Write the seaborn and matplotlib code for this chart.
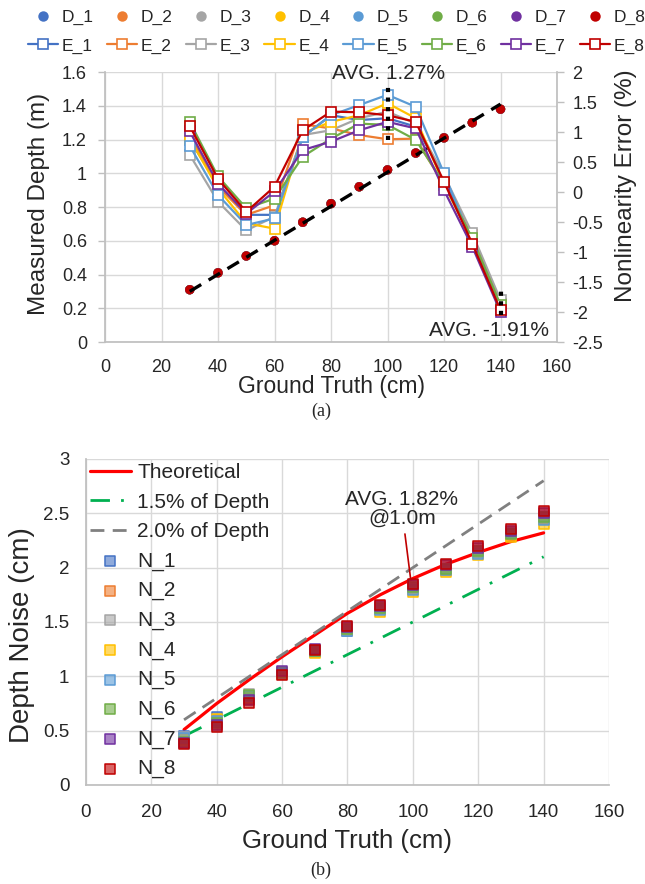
import matplotlib
matplotlib.use("Agg")
import matplotlib.pyplot as plt
import pandas as pd
import seaborn as sns
from matplotlib.lines import Line2D
from matplotlib.colors import to_rgba
from matplotlib.ticker import FuncFormatter

# ---- data ----
ground_truth = [30, 40, 50, 60, 70, 80, 90, 100, 110, 120, 130, 140]

# measured depth (m) - the 8 D series overlap in the picture
measured_depth = [0.31, 0.41, 0.51, 0.60, 0.71, 0.82, 0.92, 1.02, 1.12, 1.21, 1.30, 1.38]

# nonlinearity error (%)
E_1 = [0.87, 0.12, -0.38, -0.38, 0.92, 1.28, 1.20, 1.23, 1.09, 0.26, -0.83, -1.93]
E_2 = [0.95, 0.09, -0.38, -0.22, 1.13, 1.06, 0.95, 0.88, 0.89, 0.12, -0.72, -1.87]
E_3 = [0.62, -0.16, -0.64, -0.41, 0.95, 1.03, 1.23, 1.34, 1.14, 0.28, -0.69, -1.80]
E_4 = [0.89, 0.06, -0.52, -0.61, 0.98, 1.17, 1.28, 1.48, 1.23, 0.12, -0.80, -1.90]
E_5 = [0.77, -0.05, -0.55, -0.44, 0.92, 1.28, 1.45, 1.62, 1.42, 0.31, -0.84, -1.93]
E_6 = [1.17, 0.26, -0.27, -0.11, 0.59, 0.89, 1.14, 1.12, 0.87, 0.14, -0.77, -1.88]
E_7 = [1.01, 0.14, -0.36, 0.01, 0.70, 0.84, 1.03, 1.17, 1.06, 0.03, -0.91, -2.00]
E_8 = [1.10, 0.22, -0.33, 0.09, 1.03, 1.34, 1.33, 1.28, 1.17, 0.17, -0.86, -1.97]
errors = [E_1, E_2, E_3, E_4, E_5, E_6, E_7, E_8]

trend_x = [30, 140]
trend_y = [0.30, 1.41]

range_x = [100, 140]
range_lo = [0.87, -2.05]
range_hi = [1.81, -1.63]

# depth noise (cm)
N_1 = [0.45, 0.63, 0.80, 1.03, 1.23, 1.42, 1.62, 1.80, 1.98, 2.14, 2.31, 2.46]
N_2 = [0.42, 0.60, 0.79, 1.02, 1.22, 1.43, 1.62, 1.80, 1.98, 2.15, 2.30, 2.45]
N_3 = [0.44, 0.58, 0.84, 1.03, 1.23, 1.44, 1.63, 1.81, 1.99, 2.15, 2.31, 2.47]
N_4 = [0.41, 0.61, 0.81, 1.02, 1.21, 1.43, 1.59, 1.78, 1.96, 2.12, 2.28, 2.40]
N_5 = [0.43, 0.59, 0.82, 1.03, 1.23, 1.42, 1.61, 1.79, 1.98, 2.13, 2.32, 2.44]
N_6 = [0.40, 0.57, 0.83, 1.04, 1.23, 1.44, 1.63, 1.82, 1.99, 2.15, 2.31, 2.47]
N_7 = [0.39, 0.55, 0.78, 1.05, 1.25, 1.45, 1.65, 1.84, 2.02, 2.18, 2.34, 2.50]
N_8 = [0.38, 0.53, 0.75, 1.01, 1.24, 1.46, 1.66, 1.85, 2.03, 2.20, 2.36, 2.52]
noise = [N_1, N_2, N_3, N_4, N_5, N_6, N_7, N_8]

theoretical = [0.51, 0.75, 0.97, 1.18, 1.38, 1.58, 1.75, 1.90, 2.03, 2.14, 2.24, 2.32]
ref_x = [30, 140]
ref_15 = [0.45, 2.10]
ref_20 = [0.60, 2.80]

colors = ['#4472C4', '#ED7D31', '#A5A5A5', '#FFC000',
          '#5B9BD5', '#70AD47', '#7030A0', '#C00000']

# ---- style ----
sns.set_theme(style="white")
plt.rcParams['font.family'] = ['Liberation Sans', 'DejaVu Sans']
grid_c = '#D9D9D9'
spine_c = '#BFBFBF'
fmt = FuncFormatter(lambda v, p: f'{v:g}')

fig = plt.figure(figsize=(6.45, 8.84), dpi=100)

# ================= (a) =================
ax1 = fig.add_axes([0.1628, 0.6131, 0.7008, 0.3054])

d_names = [f'D_{i + 1}' for i in range(8)]
df_d = pd.DataFrame({
    'gt': ground_truth * 8,
    'depth': measured_depth * 8,
    'series': [n for n in d_names for _ in ground_truth],
})
sns.scatterplot(data=df_d, x='gt', y='depth', hue='series', palette=colors,
                s=45, edgecolor='none', legend=False, ax=ax1, zorder=3)
sns.lineplot(x=trend_x, y=trend_y, color='black', lw=2.4,
             linestyle=(0, (4, 2.6)), ax=ax1, zorder=4)

ax1.set_xlim(0, 160)
ax1.set_ylim(0, 1.6)
ax1.set_xticks(range(0, 161, 20))
ax1.set_yticks([i * 0.2 for i in range(9)])
ax1.yaxis.set_major_formatter(fmt)
ax1.grid(True, color=grid_c, lw=1)
ax1.set_axisbelow(True)
ax1.tick_params(axis='y', left=True, length=5, width=1, color=spine_c,
                labelsize=13, pad=8)
ax1.tick_params(axis='x', length=0, labelsize=13, pad=12)
for s in ['top', 'right']:
    ax1.spines[s].set_visible(False)
for s in ['left', 'bottom']:
    ax1.spines[s].set_color(spine_c)
ax1.set_xlabel('Ground Truth (cm)', fontsize=16.5)
ax1.set_ylabel('Measured Depth (m)', fontsize=17.5)
ax1.xaxis.set_label_coords(0.5, -0.122)
ax1.yaxis.set_label_coords(-0.122, 0.513)

ax2 = ax1.twinx()
e_names = [f'E_{i + 1}' for i in range(8)]
df_e = pd.DataFrame({
    'gt': ground_truth * 8,
    'err': [v for e in errors for v in e],
    'series': [n for n in e_names for _ in ground_truth],
})
sns.lineplot(data=df_e, x='gt', y='err', hue='series', palette=colors,
             marker='s', markersize=7, lw=1.6, legend=False, ax=ax2)
for ln in ax2.lines:
    ln.set_markerfacecolor('white')
    ln.set_markeredgecolor(ln.get_color())
    ln.set_markeredgewidth(1.2)
ax2.vlines(range_x, range_lo, range_hi, colors='black',
           linestyles=(0, (1, 1.3)), lw=3, zorder=5)
ax2.text(100.5, 1.98, 'AVG. 1.27%', ha='center', va='center', fontsize=15)
ax2.text(136, -2.3, 'AVG. -1.91%', ha='center', va='center', fontsize=15)

ax2.set_ylim(-2.5, 2)
ax2.set_yticks([-2.5 + 0.5 * i for i in range(10)])
ax2.yaxis.set_major_formatter(fmt)
ax2.grid(False)
ax2.tick_params(axis='y', right=True, length=5, width=1, color=spine_c,
                labelsize=13, pad=6)
for s in ['top', 'left', 'bottom']:
    ax2.spines[s].set_visible(False)
ax2.spines['right'].set_color(spine_c)
ax2.set_ylabel('Nonlinearity Error (%)', fontsize=17.5)
ax2.yaxis.set_label_coords(1.128, 0.58)

handles, labels = [], []
for i, c in enumerate(colors):
    handles.append(Line2D([], [], ls='none', marker='o', color=c, ms=7.5, mec='none'))
    labels.append(d_names[i])
    handles.append(Line2D([], [], marker='s', color=c, lw=1.6, ms=7,
                          mfc='white', mec=c, mew=1.2))
    labels.append(e_names[i])
fig.legend(handles, labels, ncol=8, loc='upper center',
           bbox_to_anchor=(0.522, 0.999), frameon=False, fontsize=12.5,
           handlelength=1.75, handletextpad=0.2, columnspacing=0.75,
           labelspacing=0.78, borderpad=0)

fig.text(321 / 645, 1 - 411 / 884, '(a)', ha='center', va='center',
         family=['Liberation Serif', 'DejaVu Serif'], fontsize=13)

# ================= (b) =================
ax3 = fig.add_axes([0.1333, 0.112, 0.8109, 0.3688])

sns.lineplot(x=ground_truth, y=theoretical, color='#FF0000', lw=2.3,
             label='Theoretical', ax=ax3)
sns.lineplot(x=ref_x, y=ref_15, color='#00B050', lw=2,
             linestyle=(0, (7, 4, 1, 4)), label='1.5% of Depth', ax=ax3)
sns.lineplot(x=ref_x, y=ref_20, color='#808080', lw=2,
             linestyle=(0, (5, 3)), label='2.0% of Depth', ax=ax3)
for i, (n, c) in enumerate(zip(noise, colors)):
    sns.scatterplot(x=ground_truth, y=n, marker='s', s=45,
                    color=to_rgba(c, 0.6), edgecolor=c, linewidth=1.1,
                    label=f'N_{i + 1}', ax=ax3, zorder=3)

ax3.annotate('AVG. 1.82%\n@1.0m', xy=(99.3, 1.9), xytext=(96.6, 2.54),
             ha='center', va='center', fontsize=15, linespacing=1.0,
             arrowprops=dict(arrowstyle='-', color='#C00000', lw=1.2,
                             shrinkA=2, shrinkB=0))

ax3.set_xlim(0, 160)
ax3.set_ylim(0, 3)
ax3.set_xticks(range(0, 161, 20))
ax3.set_yticks([0.5 * i for i in range(7)])
ax3.yaxis.set_major_formatter(fmt)
ax3.grid(True, color=grid_c, lw=1)
ax3.set_axisbelow(True)
ax3.tick_params(axis='both', length=0, labelsize=13.5)
ax3.tick_params(axis='y', pad=12)
ax3.tick_params(axis='x', pad=14)
for s in ['top', 'right']:
    ax3.spines[s].set_visible(False)
for s in ['left', 'bottom']:
    ax3.spines[s].set_color(spine_c)
ax3.set_xlabel('Ground Truth (cm)', fontsize=18.5)
ax3.set_ylabel('Depth Noise (cm)', fontsize=20)
ax3.xaxis.set_label_coords(0.5, -0.135)
ax3.yaxis.set_label_coords(-0.0975, 0.46)
ax3.legend(loc='upper left', frameon=False, fontsize=15, handlelength=1.95,
           handletextpad=0.3, labelspacing=0.5, borderaxespad=0.05,
           borderpad=0.15, scatterpoints=1)

fig.text(321 / 645, 1 - 870 / 884, '(b)', ha='center', va='center',
         family=['Liberation Serif', 'DejaVu Serif'], fontsize=13)

fig.savefig('out.png', dpi=100)
